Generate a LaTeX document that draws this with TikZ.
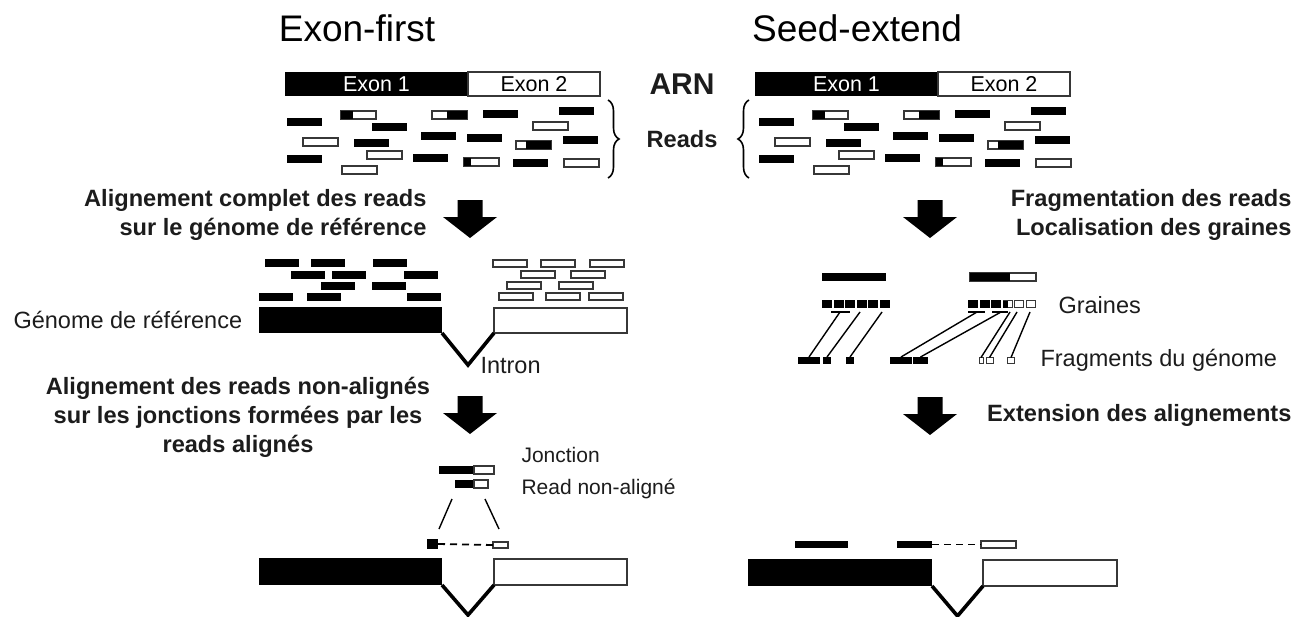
\documentclass[tikz,border=0pt]{standalone}
\usepackage{fontspec}
\setmainfont{Liberation Sans}
\usetikzlibrary{decorations.pathreplacing,calc}
\definecolor{txt}{RGB}{28,28,28}
\definecolor{edge}{RGB}{55,55,55}

% block arrow: x of centre, y of top
\newcommand{\bigarrow}[2]{%
  \fill (#1-12.5,#2) -- (#1+12.5,#2) -- (#1+12.5,#2+17) -- (#1+27,#2+17)
    -- (#1,#2+38) -- (#1-27,#2+17) -- (#1-12.5,#2+17) -- cycle;}

% the twenty reads under the ARN bar
\newcommand{\readset}{%
  \foreach \x/\y in {287/118,372/123,483/110,559/107,354/139,421/132,467/134,
                     563/136,287/155,413/154,513/159}
    \fill (\x,\y) rectangle ++(35,8);
  \foreach \x/\y in {533/122,303/138,367/151,342/166,564/159}
    \draw[wread] (\x,\y) rectangle ++(35,8);
  \draw[wread] (341,111) rectangle ++(35,8); \fill (341,111) rectangle ++(12,8);
  \draw[wread] (464,158) rectangle ++(35,8); \fill (464,158) rectangle ++(7,8);
  \draw[wread] (432,111) rectangle ++(35,8); \fill (447,111) rectangle ++(20,8);
  \draw[wread] (516,141) rectangle ++(35,8); \fill (526,141) rectangle ++(25,8);}

\begin{document}
\begin{tikzpicture}[x=1pt, y=-1pt]
	\tikzstyle{title} = [font=\fontsize{37}{44}\selectfont, text=black]
	\tikzstyle{stage} = [font=\bfseries\fontsize{23.6}{29}\selectfont, text=txt]
	\tikzstyle{lbl} = [font=\fontsize{23.5}{28}\selectfont, text=txt]
	\tikzstyle{lblsmall} = [font=\fontsize{21}{25}\selectfont, text=txt]
	\tikzstyle{wread} = [draw=edge, line width=1.3pt, fill=white]
	\tikzstyle{exonb} = [fill=black, inner sep=0pt, outer sep=0pt, anchor=north west]
	\tikzstyle{exonw} = [draw=edge, line width=1.5pt, fill=white, inner sep=0pt, outer sep=0pt, anchor=north west]
	\tikzstyle{seedb} = [fill=black, minimum width=10, minimum height=8, inner sep=0pt, outer sep=0pt]
	\tikzstyle{seedw} = [draw=edge, line width=1pt, fill=white, minimum width=9, minimum height=7, inner sep=0pt, outer sep=0pt]
	\tikzstyle{intron} = [line width=3.6pt]
	\tikzstyle{gap} = [line width=1.8pt, dash pattern=on 7pt off 5pt]
	\tikzstyle{link} = [line width=1.4pt]
	\useasboundingbox (0,0) rectangle (1314,616);

	% titles
	\node[title] (tef) at (357,28) {Exon-first};
	\node[title] (tse) at (857,28) {Seed-extend};

	% ARN bars
	\node[exonb, minimum width=183, minimum height=24, text=white, font=\fontsize{21.5}{25}\selectfont] (ea1) at (285,72) {Exon 1};
	\node[exonw, minimum width=132, minimum height=24, font=\fontsize{21.5}{25}\selectfont] (ea2) at (468,72) {Exon 2};
	\node[exonb, minimum width=183, minimum height=24, text=white, font=\fontsize{21.5}{25}\selectfont] (eb1) at (755,72) {Exon 1};
	\node[exonw, minimum width=132, minimum height=24, font=\fontsize{21.5}{25}\selectfont] (eb2) at (938,72) {Exon 2};
	\node[font=\bfseries\fontsize{30}{36}\selectfont, text=txt] (arn) at (682,84) {ARN};
	\node[stage] (rds) at (682,139) {Reads};

	% reads
	\readset
	\begin{scope}[shift={(472,0)}]
		\readset
	\end{scope}
	\draw[decorate, decoration={brace, amplitude=11pt}, line width=1.6pt] (608,100) -- (608,178);
	\draw[decorate, decoration={brace, amplitude=11pt}, line width=1.6pt] (749,178) -- (749,100);

	% arrows and steps
	\bigarrow{470}{200}
	\bigarrow{930}{200}
	\bigarrow{470}{396}
	\bigarrow{930}{397}
	\node[stage, align=right, anchor=east] (al1) at (430,215) {Alignement complet des reads\\sur le génome de référence};
	\node[stage, align=right, anchor=east] (frg) at (1295,215) {Fragmentation des reads\\Localisation des graines};
	\node[stage, align=center] (al2) at (238,417) {Alignement des reads non-alignés\\sur les jonctions formées par les\\reads alignés};
	\node[stage, anchor=east] (ext) at (1295,415) {Extension des alignements};

	% Exon-first: reads aligned on the genome
	\foreach \x/\y in {265/259,311/259,373/259,291/271,332/271,404/271,321/282,372/282,259/293,307/293,407/293}
		\fill (\x,\y) rectangle ++(34,8);
	\foreach \x/\y in {493/260,541/260,590/260,521/271,571/271,507/282,559/282,499/293,546/293,589/293}
		\draw[wread] (\x,\y) rectangle ++(34,7);
	\node[exonb, minimum width=183, minimum height=26] (ga1) at (259,307) {};
	\node[exonw, minimum width=133, minimum height=25] (ga2) at (494,308) {};
	\draw[intron] (ga1.south east) -- ($(ga1.south east)!.5!(ga2.south west)+(0,32)$) -- (ga2.south west);
	\node[lbl, anchor=west] (gen) at (10,320) {Génome de référence};
	\node[lbl, anchor=west] (intr) at (477,366) {Intron};

	% Exon-first: junction
	\fill (439,466) rectangle (474,474); \draw[wread] (474,466) rectangle (494,474);
	\fill (455,480) rectangle (474,488); \draw[wread] (474,480) rectangle (488,488);
	\node[lblsmall, anchor=west] (jct) at (518,455) {Jonction};
	\node[lblsmall, anchor=west] (rna) at (518,489) {Read non-aligné};
	\coordinate (j1) at (452,499); \coordinate (j2) at (439,529);
	\coordinate (j3) at (485,499); \coordinate (j4) at (499,529);
	\draw[link] (j1) -- (j2);
	\draw[link] (j3) -- (j4);
	\node[exonb, minimum width=11, minimum height=10] (pa1) at (427,539) {};
	\node[exonw, minimum width=15, minimum height=6, line width=1.2pt] (pa2) at (493,542) {};
	\draw[gap] (pa1.east) -- (pa2.west);
	\node[exonb, minimum width=183, minimum height=27] (gb1) at (259,558) {};
	\node[exonw, minimum width=133, minimum height=26] (gb2) at (494,559) {};
	\draw[intron] (gb1.south east) -- ($(gb1.south east)!.5!(gb2.south west)+(0,30)$) -- (gb2.south west);

	% Seed-extend: seeds and fragments
	\fill (822,273) rectangle ++(64,8);
	\draw[wread] (970,273) rectangle ++(66,8); \fill (970,273) rectangle ++(40,8);
	\foreach \i in {0,...,5}
		\node[seedb] (s\i) at (827+11.6*\i,304) {};
	\foreach \i in {0,1,2}
		\node[seedb] (t\i) at (973+11.6*\i,304) {};
	\foreach \i in {3,4,5}
		\node[seedw] (t\i) at (973+11.6*\i,304) {};
	\fill (t3.north west) rectangle (t3.south);
	\node[lbl, anchor=west] (grn) at (1055,305) {Graines};

	\node[seedb, minimum width=22, minimum height=7] (f1) at (809,360.5) {};
	\node[seedb, minimum width=8, minimum height=7] (f2) at (827,360.5) {};
	\node[seedb, minimum width=8, minimum height=7] (f3) at (850,360.5) {};
	\node[seedb, minimum width=22, minimum height=7] (f4) at (901,360.5) {};
	\node[seedb, minimum width=15, minimum height=7] (f5) at (920.5,360.5) {};
	\node[seedw, minimum width=4, minimum height=6] (f6) at (981,360.5) {};
	\node[seedw, minimum width=7, minimum height=6] (f7) at (989.5,360.5) {};
	\node[seedw, minimum width=7, minimum height=6] (f8) at (1011,360.5) {};
	\node[lbl, anchor=west] (frgm) at (1037,360) {Fragments du génome};

	\draw[link] (831,312) -- (850,312);
	\draw[link] (968,312) -- (985,312);
	\draw[link] (992,312) -- (1008,312);
	\foreach \c/\x/\f in {c1/840/f1, c2/860/f2, c3/882/f3, c4/977/f4, c5/1001/f5, c6/1010/f6, c7/1017/f7, c8/1030/f8} {
		\coordinate (\c) at (\x,312);
		\draw[link] (\c) -- (\f.north);
	}

	% Seed-extend: extension
	\fill (795,541) rectangle (848,548);
	\node[exonb, minimum width=35, minimum height=7] (pb1) at (897,541) {};
	\node[exonw, minimum width=35, minimum height=7, line width=1.2pt] (pb2) at (981,541) {};
	\draw[gap] (pb1.east) -- (pb2.west);
	\node[exonb, minimum width=184, minimum height=27] (gc1) at (748,559) {};
	\node[exonw, minimum width=134, minimum height=26] (gc2) at (983,560) {};
	\draw[intron] (gc1.south east) -- ($(gc1.south east)!.5!(gc2.south west)+(0,30)$) -- (gc2.south west);
\end{tikzpicture}
\end{document}
